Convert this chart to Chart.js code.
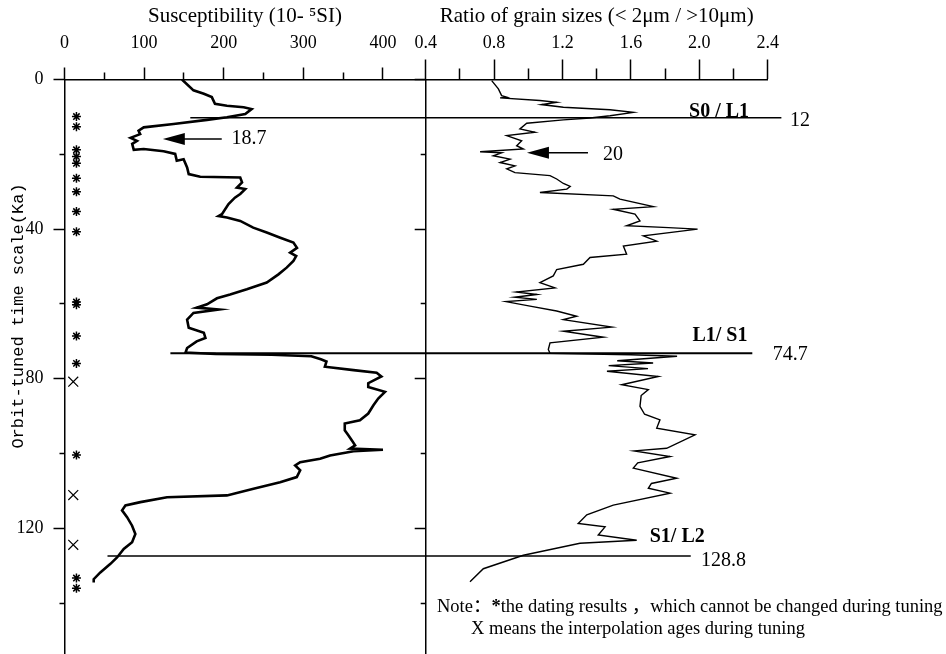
<!DOCTYPE html>
<html>
<head>
<meta charset="utf-8">
<script src="https://cdn.jsdelivr.net/npm/chart.js@4.4.1/dist/chart.umd.min.js"></script>
<style>
  html, body { margin: 0; padding: 0; background: #fff; }
  #wrap { position: relative; width: 946px; height: 654px; }
  #wrap canvas { position: absolute; left: 0; top: 0; }
</style>
</head>
<body>
<div id="wrap">
  <canvas id="left" width="946" height="654"></canvas>
  <canvas id="right" width="946" height="654"></canvas>
</div>
<script>
// magnetic susceptibility profile (age in Ka, value in 10^-5 SI)
const suscAge = [0, 2.9, 3.8, 4.7, 6.5, 7.0, 7.4, 7.9, 9.2, 10.1, 10.8, 11.9, 12.8, 13.7, 14.6, 15.6, 16.4, 17.2, 18.8, 18.6,
  19.2, 19.9, 21.7, 21.3, 23.5, 25.3, 26.0, 26.2, 27.5, 28.9, 29.3, 30.6, 31.6, 33.3, 36.0, 36.5, 36.9, 37.8, 39.6, 40.9,
  42.3, 43.6, 45.0, 46.3, 47.2, 48.5, 50.3, 52.1, 54.3, 56.1, 57.5, 58.5, 60.1, 61.0, 61.5, 62.4, 64.2, 66.4, 67.7, 69.1,
  70.0, 71.8, 73.0, 73.4, 73.6, 74.0, 74.8, 75.4, 76.8, 77.7, 78.4, 79.4, 81.2, 82.2, 83.5, 85.3, 87.1, 89.3, 91.1, 92.0,
  93.8, 95.1, 96.5, 97.8, 98.7, 99.0, 99.4, 100.5, 101.4, 102.3, 103.2, 104.5, 106.3, 107.7, 109.4, 111.2, 111.7, 113.0,
  113.9, 115.2, 117.0, 119.3, 121.5, 123.7, 125.5, 127.8, 129.5, 131.8, 133.6, 134.5];
const suscVal = [147.5, 162, 175, 185, 189, 204, 225, 235, 227, 204, 179, 137, 99.5, 93, 95, 83, 91, 85, 87, 99.5,
  124.5, 139, 141, 149.6, 154, 156, 170.5, 220.7, 223, 216.5, 227, 220.7, 214, 206, 197.7, 193.5, 204, 220.7, 237, 254,
  271, 287.5, 292, 283.4, 291, 287.5, 279, 268.7, 254, 229, 208, 191.5, 179, 166, 193.5, 162, 154, 156, 175, 177,
  166, 154, 152, 190, 260, 310, 322, 329, 327, 363, 392, 398, 381.5, 381.5, 402.5, 394, 388, 381.5, 371, 352,
  352, 356.5, 361, 365, 358.6, 400, 363, 333.5, 321, 296, 289.7, 296, 291.7, 270.8, 237.4, 204, 128.8, 95.3,
  76.5, 72.3, 78.6, 84.9, 89, 84.9, 74.4, 66, 57.7, 45, 36.7, 36.7];

// grain size ratio (<2um / >10um) profile
const ratioAge = [0.3, 2.5, 4.3, 4.7, 4.9, 5.6, 6.1, 6.7, 7.4, 8.1, 8.8, 9.7, 10.3, 10.8, 11.7, 13.2, 14.1, 15.0, 16.4, 17.7,
  18.6, 19.3, 19.6, 20.4, 21.3, 22.2, 23.1, 23.9, 24.9, 25.7, 26.6, 27.8, 28.6, 29.3, 30.2, 31.1, 32.0, 34.0, 34.7, 36.0,
  37.8, 39.1, 39.6, 40.0, 41.8, 43.2, 44.5, 46.7, 47.6, 49.4, 50.8, 52.5, 54.3, 55.7, 56.8, 57.5, 58.2, 58.8, 59.4, 60.6,
  61.9, 63.3, 64.2, 66.2, 67.3, 68.9, 70.4, 72.2, 73.2, 73.6, 74.0, 75.2, 75.8, 76.5, 77.3, 78.0, 79.4, 81.6, 82.9, 84.5,
  87.4, 89.5, 91.0, 93.2, 95.0, 98.6, 99.3, 100.8, 102.5, 103.9, 106.6, 108.0, 109.3, 110.6, 113.8, 116.4, 118.7, 119.6,
  121.8, 123.2, 124.0, 127.2, 130.8, 134.3];
const ratioVal = [0.786, 0.825, 0.844, 0.874, 0.835, 1.068, 1.166, 1.078, 1.205, 1.478, 1.614, 1.478, 1.361, 1.205, 0.991, 0.951, 1.039, 0.874, 0.961, 0.932,
  0.971, 0.718, 0.844, 0.795, 0.893, 0.835, 0.922, 0.874, 0.922, 1.127, 1.166, 1.205, 1.245, 1.225, 1.068, 1.497, 1.536, 1.731, 1.497, 1.624,
  1.653, 1.575, 1.82, 1.99, 1.673, 1.751, 1.556, 1.575, 1.361, 1.322, 1.166, 1.146, 1.068, 1.156, 0.93, 1.05, 0.92, 1.05, 0.87, 1.01,
  1.166, 1.283, 1.205, 1.488, 1.205, 1.439, 1.127, 1.117, 1.127, 1.60, 1.87, 1.52, 1.73, 1.47, 1.70, 1.46, 1.76, 1.546, 1.702, 1.66,
  1.653, 1.68, 1.77, 1.751, 1.975, 1.809, 1.62, 1.829, 1.64, 1.614, 1.868, 1.72, 1.702, 1.829, 1.497, 1.342, 1.292, 1.449,
  1.409, 1.634, 1.302, 0.971, 0.737, 0.659];

// dating control points: * fixed dating results, X interpolated ages
const starAges = [9.9, 12.6, 18.8, 20.6, 22.4, 26.4, 30.0, 35.3, 40.7, 59.5, 60.2, 68.6, 75.9, 100.4, 133.3, 136.0];
const crossAges = [80.8, 111.1, 124.4];

// stratigraphic boundaries
const boundaryAge = [10.2, 73.2, 127.4];
const boundaryText = ['12', '74.7', '128.8'];
const boundaryName = ['S0 / L1', 'L1/ S1', 'S1/ L2'];

// arrows (ages pointed at)
const arrowText = ['18.7', '20'];

const ageMax = 153.6;
const serif = "'Liberation Serif', 'Times New Roman', 'Noto Sans CJK SC', serif";
Chart.defaults.color = '#000';
Chart.defaults.font.family = serif;

// where annotation pieces sit (in the axes' own units)
const lineFrom = [158, 133, 54];        // susceptibility units (left panel)
const lineTo = [2.48, 2.31, 1.95];      // ratio units (right panel)
const ageTextAt = [[2.53, 11.1], [2.43, 73.6], [2.01, 128.6]];
const nameAt = [[1.94, 8.7], [1.96, 68.5], [1.71, 122.2]];

function tickDash(major, minor, isMajor) {
  return ctx => (ctx.tick && isMajor(ctx.tick.value)) ? [] : [0, major - minor, minor, 300];
}

const pts = (ys, xs) => ys.map((y, i) => ({ x: xs[i], y: y }));

function noPad(s) {
  s.paddingTop = 0; s.paddingBottom = 0; s.paddingLeft = 0; s.paddingRight = 0;
}

const yAxis = (showLabels, width) => ({
  type: 'linear', reverse: true, min: 0, max: ageMax,
  afterBuildTicks: s => { s.ticks = s.ticks.filter(t => t.value % 20 === 0); },
  afterFit: s => { s.width = width; noPad(s); },
  ticks: {
    stepSize: 20, autoSkip: false, padding: 10,
    font: { size: 18 },
    callback: v => (showLabels && v % 40 === 0) ? v : ''
  },
  grid: {
    drawOnChartArea: false, tickLength: 11, tickWidth: 1.5, tickColor: '#000',
    tickBorderDash: tickDash(11, 5, v => v % 40 === 0)
  },
  border: { color: '#000', width: 1.5 }
});

const chartL = new Chart(document.getElementById('left'), {
  type: 'scatter',
  data: {
    datasets: [
      { data: pts(suscAge, suscVal), showLine: true, borderColor: '#000', borderWidth: 2.6, pointRadius: 0, tension: 0 },
      { data: starAges.map(a => ({ x: 15, y: a })), pointStyle: 'star', pointRadius: 4.5, borderColor: '#000', borderWidth: 1.5, backgroundColor: '#000' },
      { data: crossAges.map(a => ({ x: 11, y: a })), pointStyle: 'crossRot', pointRadius: 7, borderColor: '#000', borderWidth: 1.2 }
    ]
  },
  options: {
    responsive: false, animation: false, devicePixelRatio: 1,
    layout: { autoPadding: false, padding: { left: 0, right: 520.5, top: 0, bottom: 0 } },
    plugins: { legend: { display: false }, tooltip: { enabled: false } },
    scales: {
      x: {
        type: 'linear', position: 'top', min: 0, max: 453.4,
        afterBuildTicks: s => { s.ticks = s.ticks.filter(t => t.value <= 400); },
        afterFit: s => { s.height = 79.5; noPad(s); },
        ticks: { stepSize: 50, autoSkip: false, maxRotation: 0, padding: 13, font: { size: 18 },
          callback: v => v % 100 === 0 ? v : '' },
        grid: { drawOnChartArea: false, tickLength: 12, tickWidth: 1.5, tickColor: '#000',
          tickBorderDash: tickDash(12, 7, v => v % 100 === 0) },
        border: { color: '#000', width: 1.5 },
        title: { display: true, text: 'Susceptibility (10- \u2075SI)', font: { size: 21 }, padding: { top: 4, bottom: 0 } }
      },
      y: yAxis(true, 64.5)
    }
  },
  plugins: [{
    id: 'ytitle',
    afterDraw(chart) {
      const ctx = chart.ctx;
      ctx.save();
      ctx.translate(18, 316);
      ctx.rotate(-Math.PI / 2);
      ctx.font = "17px 'Liberation Mono', 'Courier New', monospace";
      ctx.fillStyle = '#000';
      ctx.textAlign = 'center';
      ctx.textBaseline = 'middle';
      ctx.fillText('Orbit-tuned time scale(Ka)', 0, 0);
      ctx.restore();
    }
  }]
});

function arrow(ctx, xTail, xHead, y) {
  ctx.beginPath();
  ctx.moveTo(xTail, y);
  ctx.lineTo(xHead + 18, y);
  ctx.lineWidth = 1.5;
  ctx.stroke();
  ctx.beginPath();
  ctx.moveTo(xHead, y);
  ctx.lineTo(xHead + 22, y - 6);
  ctx.lineTo(xHead + 22, y + 6);
  ctx.closePath();
  ctx.fill();
}

const overlay = {
  id: 'overlay',
  afterDraw(chart) {
    const ctx = chart.ctx;
    const yS = chart.scales.y, xR = chart.scales.x, xL = chartL.scales.x;
    ctx.save();
    ctx.strokeStyle = '#000';
    ctx.fillStyle = '#000';
    boundaryAge.forEach((age, i) => {
      const y = yS.getPixelForValue(age);
      ctx.beginPath();
      ctx.moveTo(xL.getPixelForValue(lineFrom[i]), y);
      ctx.lineTo(xR.getPixelForValue(lineTo[i]), y);
      ctx.lineWidth = i === 1 ? 2 : 1.5;
      ctx.stroke();
      ctx.textBaseline = 'middle';
      ctx.textAlign = 'left';
      ctx.font = '20px ' + serif;
      ctx.fillText(boundaryText[i], xR.getPixelForValue(ageTextAt[i][0]), yS.getPixelForValue(ageTextAt[i][1]));
      ctx.font = 'bold 20px ' + serif;
      ctx.fillText(boundaryName[i], xR.getPixelForValue(nameAt[i][0]), yS.getPixelForValue(nameAt[i][1]));
    });

    // arrows
    ctx.font = '20px ' + serif;
    let y = yS.getPixelForValue(15.9);
    arrow(ctx, xL.getPixelForValue(197.5), xL.getPixelForValue(123.5), y);
    ctx.fillText(arrowText[0], xL.getPixelForValue(209.7), y);
    y = yS.getPixelForValue(19.6);
    arrow(ctx, xR.getPixelForValue(1.349), xR.getPixelForValue(0.992), y);
    ctx.fillText(arrowText[1], xR.getPixelForValue(1.437), y + 2);

    // note
    ctx.font = '18.5px ' + serif;
    let x = 437;
    ctx.fillText('Note\uFF1A', x, 607);
    x += ctx.measureText('Note\uFF1A').width;
    ctx.font = 'bold 18.5px ' + serif;
    ctx.fillText('*', x, 607);
    x += ctx.measureText('*').width;
    ctx.font = '18.5px ' + serif;
    ctx.fillText('the dating results \uFF0Cwhich cannot be changed during tuning', x, 607);
    ctx.fillText('X means the interpolation ages during tuning', 471, 629);
    ctx.restore();
  }
};

const chartR = new Chart(document.getElementById('right'), {
  type: 'scatter',
  data: {
    datasets: [
      { data: pts(ratioAge, ratioVal), showLine: true, borderColor: '#000', borderWidth: 1.4, pointRadius: 0, tension: 0 }
    ]
  },
  options: {
    responsive: false, animation: false, devicePixelRatio: 1,
    layout: { autoPadding: false, padding: { left: 410.7, right: 178.3, top: 0, bottom: 0 } },
    plugins: { legend: { display: false }, tooltip: { enabled: false } },
    scales: {
      x: {
        type: 'linear', position: 'top', min: 0.4, max: 2.4,
        afterFit: s => { s.height = 79.5; noPad(s); },
        ticks: { stepSize: 0.2, autoSkip: false, maxRotation: 0, padding: 5, font: { size: 18 },
          callback: v => Math.round(v * 10) % 4 === 0 ? v.toFixed(1) : '' },
        grid: { drawOnChartArea: false, tickLength: 20, tickWidth: 1.5, tickColor: '#000',
          tickBorderDash: tickDash(20, 11, v => Math.round(v * 10) % 4 === 0) },
        border: { color: '#000', width: 1.5 },
        title: { display: true, text: 'Ratio of grain sizes (< 2\u03BCm / >10\u03BCm)', font: { size: 21 }, padding: { top: 4, bottom: 0 } }
      },
      y: yAxis(false, 15)
    }
  },
  plugins: [overlay]
});
</script>
</body>
</html>
